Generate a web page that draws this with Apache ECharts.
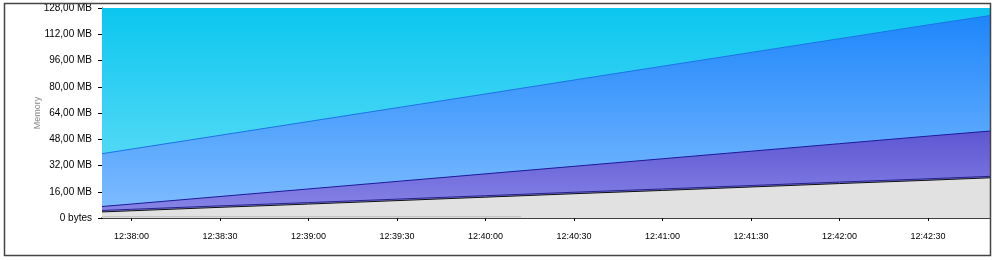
<!DOCTYPE html>
<html><head><meta charset="utf-8">
<script src="https://cdn.jsdelivr.net/npm/echarts@6/dist/echarts.min.js"></script>
<style>html,body{margin:0;padding:0;background:#fff}#c{width:995px;height:261px}</style>
</head><body><div id="c"></div>
<script>
const times = ["12:37:50","12:38:00","12:38:30","12:39:00","12:39:30","12:40:00","12:40:30","12:41:00","12:41:30","12:42:00","12:42:30","12:42:51"];
const maxHeap   = [128,128,128,128,128,128,128,128,128,128,128,128];
const committed = [39.2,42.0,50.4,58.8,67.2,75.6,84.1,92.5,100.9,109.3,117.7,123.4];
const survivor  = [7.0,8.5,13.1,17.7,22.3,26.9,31.5,36.1,40.7,45.3,49.9,53.0];
const usedTop   = [4.6,5.3,7.4,9.4,11.5,13.6,15.7,17.7,19.8,21.9,23.9,25.4];
const used      = [3.7,4.4,6.5,8.5,10.6,12.7,14.8,16.8,18.9,21.0,23.0,24.5];
const smallTimes = ["12:37:50","12:40:12"];
const smallVals  = [0.8,0.8];
const xTicks = ["12:38:00","12:38:30","12:39:00","12:39:30","12:40:00","12:40:30","12:41:00","12:41:30","12:42:00","12:42:30"];

function toSec(t){const p=t.split(':').map(Number);return p[0]*3600+p[1]*60+p[2];}
function fmt(s){const h=Math.floor(s/3600),m=Math.floor((s%3600)/60),ss=Math.round(s%60);return h+':'+String(m).padStart(2,'0')+':'+String(ss).padStart(2,'0');}
function pairs(ts,vs){return ts.map((t,i)=>[toSec(t),vs[i]]);}
function grad(a,b){return new echarts.graphic.LinearGradient(0,0,0,1,[{offset:0,color:a},{offset:1,color:b}]);}

const chart = echarts.init(document.getElementById('c'),null,{renderer:'canvas'});
const font = 'Liberation Sans';
chart.setOption({
  animation:false,
  grid:{left:102,right:5,top:8,bottom:43,containLabel:false},
  graphic:[{type:'rect',shape:{x:4.5,y:3.5,width:986,height:252},style:{fill:'none',stroke:'#444',lineWidth:1.5},z:100}],
  xAxis:{type:'value',min:toSec(times[0]),max:toSec(times[times.length-1]),
    splitLine:{show:false},
    axisLine:{show:true,onZero:false,lineStyle:{color:'#000',width:1.5}},
    axisTick:{show:true,length:3,lineStyle:{color:'#000'},customValues:xTicks.map(toSec)},
    axisLabel:{customValues:xTicks.map(toSec),formatter:v=>fmt(v),color:'#000',fontSize:9,fontFamily:font,margin:14}},
  yAxis:{type:'value',min:0,max:128,interval:16,
    name:'Memory',nameLocation:'middle',nameGap:60,nameMoveOverlap:false,nameTextStyle:{color:'#888',fontSize:9,fontFamily:font},
    splitLine:{show:false},
    axisLine:{show:true,lineStyle:{color:'#000',width:1}},
    axisTick:{show:true,length:4,lineStyle:{color:'#000'}},
    axisLabel:{formatter:v=>v===0?'0 bytes':v.toFixed(2).replace('.',',')+' MB',color:'#000',fontSize:10,fontFamily:font,margin:10}},
  series:[
    {type:'line',data:pairs(times,maxHeap),showSymbol:false,lineStyle:{width:0},areaStyle:{color:grad('#0bc6ef','#6fe0f8'),opacity:1}},
    {type:'line',data:pairs(times,committed),showSymbol:false,lineStyle:{width:1,color:'#1a74e6'},areaStyle:{color:grad('#1e86fb','#82beff'),opacity:1}},
    {type:'line',data:pairs(times,survivor),showSymbol:false,lineStyle:{width:1,color:'#1c1a9c'},areaStyle:{color:grad('#5e56d2','#8a88e8'),opacity:1}},
    {type:'line',data:pairs(times,usedTop),showSymbol:false,lineStyle:{width:1,color:'#23238a'}},
    {type:'line',data:pairs(times,used),showSymbol:false,lineStyle:{width:1,color:'#111'},areaStyle:{color:'#e1e1e1',opacity:1}},
    {type:'line',data:pairs(smallTimes,smallVals),showSymbol:false,lineStyle:{width:1,color:'#bdbdbd'}}
  ]
});
</script></body></html>
